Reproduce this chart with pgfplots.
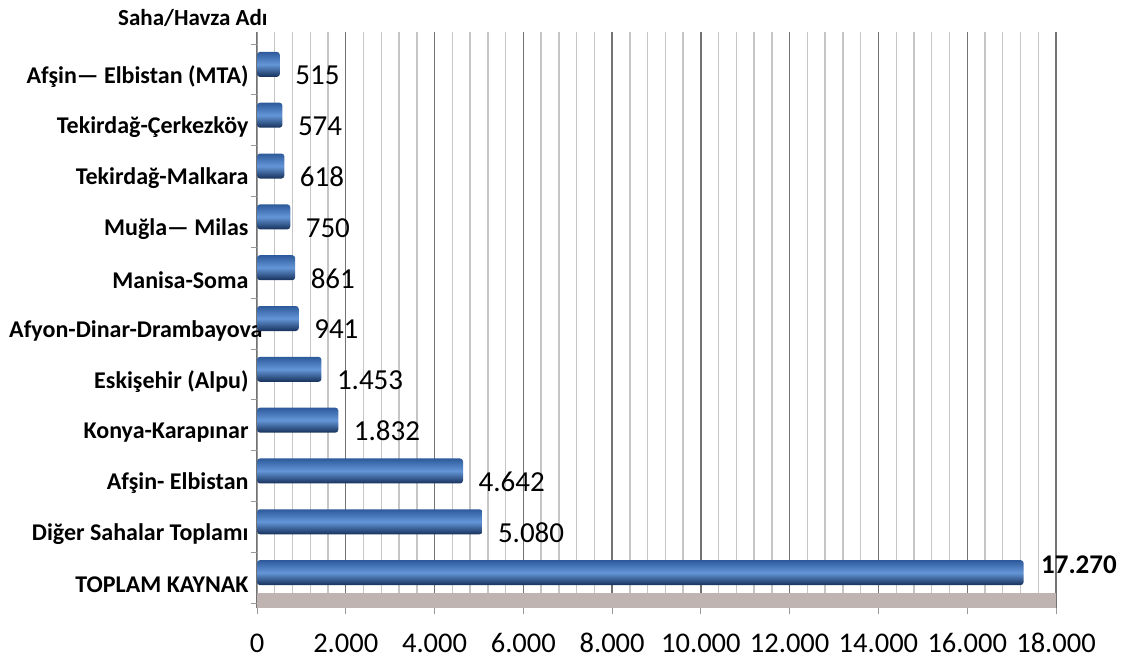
\documentclass[border=0pt]{standalone}
\usepackage{pgfplots}
\pgfplotsset{compat=1.18}
\usepackage{fontspec}
\setmainfont{Carlito}
\definecolor{bartop}{RGB}{45,90,155}
\definecolor{barmid}{RGB}{100,150,215}
\definecolor{barbot}{RGB}{22,48,90}
\definecolor{floorc}{RGB}{191,180,177}
\pgfplotsset{
  mybar/.style={xbar, bar width=25pt, bar shift=5pt, draw=none, top color=bartop, bottom color=barbot, middle color=barmid, rounded corners=3pt,
    nodes near coords, nodes near coords align={horizontal},
    every node near coord/.append style={font=\fontsize{29}{32}\selectfont, text=black, anchor=west, xshift=12pt, yshift=-6pt}},
}
\begin{document}
\begin{tikzpicture}
\useasboundingbox (0,0) rectangle (1126pt,659pt);
\node[anchor=base west, inner sep=0pt] at (118pt,633pt) {\fontsize{23}{27}\selectfont\bfseries Saha/Havza Adı};
\begin{axis}[
  at={(257pt,51pt)}, anchor=south west,
  scale only axis, width=799pt, height=576pt,
  xmin=0, xmax=18000, ymin=-0.598, ymax=10.736,
  axis x line*=bottom, axis y line*=left,
  x axis line style={draw=none},
  y axis line style={draw=gray!80, line width=0.8pt},
  scaled x ticks=false,
  xtick={0,2000,...,18000},
  minor x tick num=4,
  minor tick length=0pt,
  major tick length=6pt,
  tick align=outside,
  xtick style={draw=gray!80, line width=0.8pt},
  ytick={0,...,10},
  ytick style={draw=none},
  extra y ticks={-0.5,0.5,...,10.5},
  extra y tick labels={},
  extra y tick style={grid=none, ytick style={draw=gray!80, line width=0.8pt}},
  xmajorgrids, xminorgrids,
  major grid style={draw=gray!90!black, line width=1.4pt},
  minor grid style={draw=gray!45, line width=1.4pt},
  /pgf/number format/.cd, 1000 sep={.}, assume math mode=true, /pgfplots/.cd,
  xticklabel style={font=\fontsize{28.5}{30}\selectfont, anchor=base, yshift=-38pt},
  yticklabels={TOPLAM KAYNAK, Diğer Sahalar Toplamı, Afşin- Elbistan, Konya-Karapınar, Eskişehir (Alpu), Afyon-Dinar-Drambayova\hspace*{-14pt}, Manisa-Soma, Muğla— Milas, Tekirdağ-Malkara, Tekirdağ-Çerkezköy, Afşin— Elbistan (MTA)},
  yticklabel style={font=\fontsize{24}{27}\selectfont\bfseries, yshift=-7pt, xshift=1pt},
  clip=false,
]
\fill[floorc] (axis cs:0,-0.598) rectangle (axis cs:18000,-0.303);
\addplot[mybar] coordinates {(5080,1)};
\addplot[mybar] coordinates {(4642,2)};
\addplot[mybar] coordinates {(1832,3)};
\addplot[mybar] coordinates {(1453,4)};
\addplot[mybar] coordinates {(941,5)};
\addplot[mybar] coordinates {(861,6)};
\addplot[mybar] coordinates {(750,7)};
\addplot[mybar] coordinates {(618,8)};
\addplot[mybar] coordinates {(574,9)};
\addplot[mybar] coordinates {(515,10)};
\addplot[mybar, every node near coord/.append style={font=\fontsize{27}{30}\selectfont\bfseries, xshift=2pt, yshift=19pt}] coordinates {(17270,0)};
\end{axis}
\end{tikzpicture}
\end{document}
